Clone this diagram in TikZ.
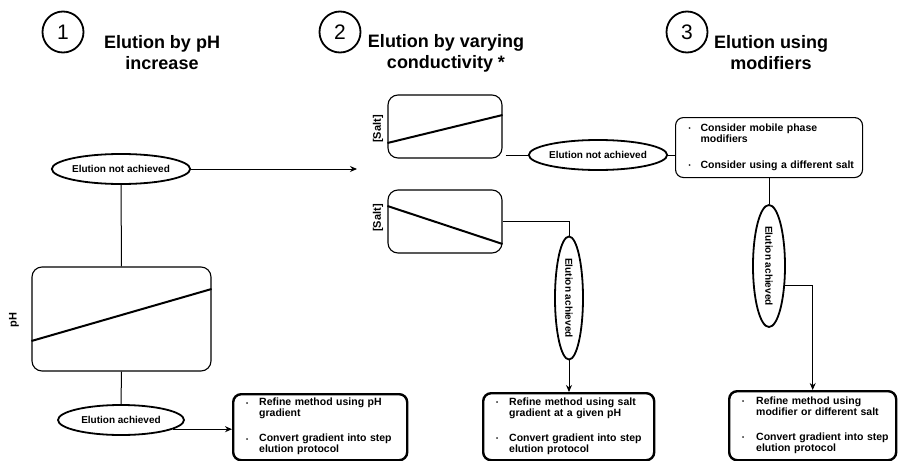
\documentclass[tikz,border=0pt]{standalone}
\usepackage{fontspec}
\usepackage{graphicx}
\setmainfont{Liberation Sans}
\usetikzlibrary{shapes.geometric,arrows.meta,calc}
\newcommand{\smbul}{{\fontsize{6}{6}\selectfont\raisebox{0.8pt}{\textbullet}}}
\begin{document}
\begin{tikzpicture}[x=1pt,y=-1pt,
  title/.style={font=\fontsize{18}{21}\selectfont\bfseries, align=center},
  numcirc/.style={circle, draw, line width=1.8pt, minimum size=41pt, inner sep=0pt, font=\fontsize{21}{21}\selectfont},
  oval/.style={ellipse, draw, line width=1.8pt, inner sep=0pt, font=\fontsize{10}{11}\selectfont\bfseries},
  graphbox/.style={draw, line width=1.1pt, rounded corners=10pt, inner sep=0pt},
  curve/.style={line width=2pt},
  axislabel/.style={rotate=90, font=\fontsize{11}{12}\selectfont\bfseries},
  infobox/.style={draw, rounded corners=8pt, anchor=north west, inner xsep=13pt, inner ysep=0pt, align=left, font=\fontsize{10.5}{11}\selectfont\bfseries},
  resultbox/.style={infobox, line width=2.4pt},
  conn/.style={line width=1pt},
  arr/.style={conn, -{Stealth[length=7pt,width=6pt]}},
]
\useasboundingbox (0,0) rectangle (898,461);

% headers
\node[numcirc] (c1) at (63,32) {1};
\node[title] (t1) at (162,53) {Elution by pH\\increase};
\node[numcirc] (c2) at (340,32) {2};
\node[title] (t2) at (446,53) {Elution by varying\\conductivity *};
\node[numcirc] (c3) at (687,32) {3};
\node[title] (t3) at (771,53) {Elution using\\modifiers};

% column 1
\node[oval, minimum width=125pt, minimum height=30pt] (e1n) at (121,169) {Elution not achieved};
\coordinate (tgt) at (357,169);
\node[graphbox, minimum width=179pt, minimum height=104pt] (phbox) at (121.5,319) {};
\draw[curve] ($(phbox.west)+(0,22)$) -- ($(phbox.east)+(0,-30)$);
\node[axislabel] (phlab) at (14,320) {pH};
\node[oval, minimum width=126pt, minimum height=30pt] (e1a) at (121,420) {Elution achieved};
\node[resultbox, minimum width=174pt, minimum height=66pt, text width=148pt] (r1) at (232,393) {%
\begin{tabular}{@{}p{13pt}@{}l@{}}
\smbul & Refine method using pH\\
 & gradient\\[14pt]
\smbul & Convert gradient into step\\
 & elution protocol
\end{tabular}};

% column 2
\node[graphbox, minimum width=114pt, minimum height=63pt] (salt1) at (445,126.5) {};
\draw[curve] ($(salt1.west)+(0,16.5)$) -- ($(salt1.east)+(0,-11.5)$);
\node[axislabel] (sl1) at (378,129) {[Salt]};
\node[graphbox, minimum width=114pt, minimum height=63pt] (salt2) at (445,221.5) {};
\draw[curve] ($(salt2.west)+(0,-15.5)$) -- ($(salt2.east)+(0,22.5)$);
\node[axislabel] (sl2) at (378,218) {[Salt]};
\node[oval, minimum width=127pt, minimum height=30pt] (e2n) at (598,155) {Elution not achieved};
\node[oval, minimum width=28pt, minimum height=123pt] (e2a) at (569,298) {\rotatebox{-90}{Elution achieved}};
\node[resultbox, minimum width=171pt, minimum height=67pt, text width=145pt] (r2) at (482,392) {%
\begin{tabular}{@{}p{13pt}@{}l@{}}
\smbul & Refine method using salt\\
 & gradient at a given pH\\[14pt]
\smbul & Convert gradient into step\\
 & elution protocol
\end{tabular}};

% column 3
\node[infobox, line width=1.1pt, minimum width=187pt, minimum height=60pt, text width=161pt] (cons) at (675,117) {%
\begin{tabular}{@{}p{12pt}@{}l@{}}
\smbul & Consider mobile phase\\
 & modifiers\\[15pt]
\smbul & Consider using a different salt
\end{tabular}};
\node[oval, minimum width=32pt, minimum height=122pt] (e3a) at (769,266) {\rotatebox{-90}{Elution achieved}};
\node[resultbox, minimum width=167pt, minimum height=69pt, text width=141pt] (r3) at (728,390) {%
\begin{tabular}{@{}p{14pt}@{}l@{}}
\smbul & Refine method using\\
 & modifier or different salt\\[14pt]
\smbul & Convert gradient into step\\
 & elution protocol
\end{tabular}};

% connectors
\draw[arr] (e1n.east) -- (tgt);
\draw[conn] (e1n.south) -- (phbox.north);
\draw[conn] (phbox.south) -- (e1a.north);
\draw[arr] (e1a.-10) -- (e1a.-10 -| r1.west);
\draw[conn] ($(salt1.east |- e2n.west)+(3,0)$) -- (e2n.west);
\draw[conn] (e2n.east) -- (e2n.east -| cons.west);
\draw[conn] (salt2.east) -| (e2a.north);
\draw[arr] (e2a.south) -- (e2a.south |- r2.north);
\draw[conn] (cons.south -| e3a.north) -- (e3a.north);
\draw[arr] (e3a.-51) -| (r3.north);
\end{tikzpicture}
\end{document}
